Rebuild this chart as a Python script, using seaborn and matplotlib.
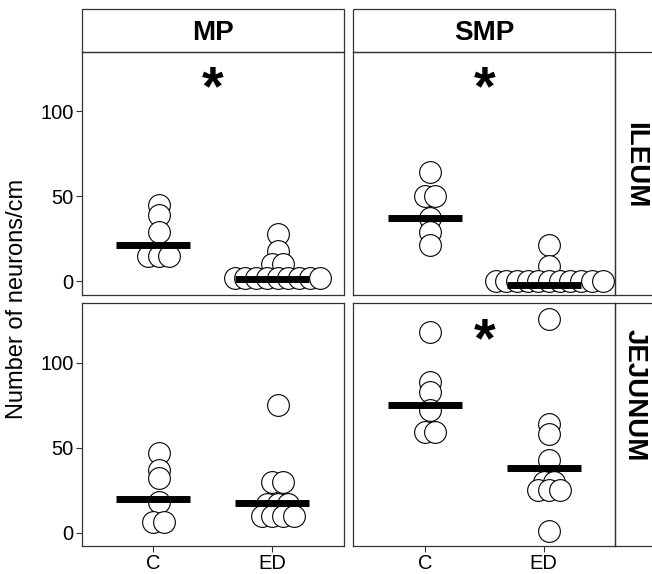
import numpy as np
import pandas as pd
import matplotlib.pyplot as plt
import seaborn as sns
from matplotlib.patches import Rectangle

sns.set_style("white")
plt.rcParams['font.family'] = ['Liberation Sans', 'DejaVu Sans']
plt.rcParams['text.color'] = 'black'

groups = ["C", "ED"]
layers = ["MP", "SMP"]
segments = ["ILEUM", "JEJUNUM"]

# dots, neurons/cm
mp_ileum_c = [45, 39, 29, 15, 15, 15]
mp_ileum_ed = [28, 18, 10, 10, 2, 2, 2, 2, 2, 2, 2, 2, 2]
smp_ileum_c = [64, 50, 50, 37, 29, 21]
smp_ileum_ed = [21, 9, 0, 0, 0, 0, 0, 0, 0, 0, 0, 0, 0]
mp_jejunum_c = [47, 37, 32, 18, 6, 6]
mp_jejunum_ed = [75, 30, 30, 17, 17, 17, 10, 10, 10, 10]
smp_jejunum_c = [118, 89, 83, 72, 59, 59]
smp_jejunum_ed = [126, 64, 58, 43, 30, 30, 25, 25, 25, 1]

# black bars as drawn (C, ED)
mp_ileum_bar = [21, 1.5]
smp_ileum_bar = [37, -2.5]
mp_jejunum_bar = [19.5, 17.5]
smp_jejunum_bar = [75, 38]

# panels with a significance star
star_panels = [("MP", "ILEUM"), ("SMP", "ILEUM"), ("SMP", "JEJUNUM")]

# %%
rows = []
for seg, lay, grp, vals in [("ILEUM", "MP", "C", mp_ileum_c), ("ILEUM", "MP", "ED", mp_ileum_ed),
                            ("ILEUM", "SMP", "C", smp_ileum_c), ("ILEUM", "SMP", "ED", smp_ileum_ed),
                            ("JEJUNUM", "MP", "C", mp_jejunum_c), ("JEJUNUM", "MP", "ED", mp_jejunum_ed),
                            ("JEJUNUM", "SMP", "C", smp_jejunum_c), ("JEJUNUM", "SMP", "ED", smp_jejunum_ed)]:
    for v in vals:
        rows.append({"segment": seg, "layer": lay, "group": grp, "value": v})
df = pd.DataFrame(rows)

bars = {("MP", "ILEUM"): mp_ileum_bar, ("SMP", "ILEUM"): smp_ileum_bar,
        ("MP", "JEJUNUM"): mp_jejunum_bar, ("SMP", "JEJUNUM"): smp_jejunum_bar}

# dotplot-style centred stacking of equal values
keys = ["segment", "layer", "group", "value"]
df["k"] = df.groupby(keys).cumcount()
df["n"] = df.groupby(keys)["value"].transform("size")
df["xpos"] = df["group"].map({g: i for i, g in enumerate(groups)}) + 0.045 + (df["k"] - (df["n"] - 1) / 2) * 0.09

# %%
fig, axes = plt.subplots(2, 2, figsize=(6.52, 5.74), dpi=100, sharex=True, sharey=True)
fig.subplots_adjust(left=82/652, right=615/652, top=1-52/574, bottom=1-546/574, wspace=0.038, hspace=0.037)

edge = "#333333"
strip_h = 43/242.5
strip_w = 45/261.5

for i, seg in enumerate(segments):
    for j, lay in enumerate(layers):
        ax = axes[i, j]
        sub = df[(df["segment"] == seg) & (df["layer"] == lay)]
        sns.scatterplot(data=sub, x="xpos", y="value", ax=ax, s=245, color="white",
                        edgecolor="black", linewidth=0.8, zorder=2, legend=False)
        pos = np.arange(len(groups))
        ax.hlines(bars[(lay, seg)], pos - 0.31, pos + 0.31, color="black", linewidth=5, capstyle="butt", zorder=3)
        if (lay, seg) in star_panels:
            ax.text(0.5, 104, "*", ha="center", va="baseline", fontsize=40, fontweight="bold", color="black")

        ax.set_xlim(-0.6, 1.6)
        ax.set_ylim(-7.9, 135)
        ax.set_xticks(pos)
        ax.set_xticklabels(groups)
        ax.set_yticks([0, 50, 100])
        ax.set_xlabel("")
        ax.set_ylabel("")
        ax.tick_params(length=4, width=0.8, color=edge, labelsize=14.5, labelcolor="black", pad=2,
                       bottom=(i == 1), left=(j == 0))
        for sp in ax.spines.values():
            sp.set_visible(True)
            sp.set_color(edge)
            sp.set_linewidth(0.9)

# facet strips
for j, lay in enumerate(layers):
    ax = axes[0, j]
    ax.add_patch(Rectangle((0, 1), 1, strip_h, transform=ax.transAxes, clip_on=False,
                           facecolor="white", edgecolor=edge, lw=0.9))
    ax.text(0.5, 1 + strip_h / 2 - 0.01, lay, transform=ax.transAxes, ha="center", va="center",
            fontsize=20, fontweight="bold", color="black")

seg_y = [0.535, 0.62]
for i, seg in enumerate(segments):
    ax = axes[i, 1]
    ax.add_patch(Rectangle((1, 0), strip_w, 1, transform=ax.transAxes, clip_on=False,
                           facecolor="white", edgecolor=edge, lw=0.9))
    ax.text(1.0765, seg_y[i], seg, transform=ax.transAxes, ha="center", va="center",
            rotation=-90, fontsize=20, fontweight="bold", color="black")

fig.text(17/652, 1 - 299/574, "Number of neurons/cm", rotation=90, ha="center", va="center",
         fontsize=17, color="black")

fig.savefig("out.png", dpi=100)
